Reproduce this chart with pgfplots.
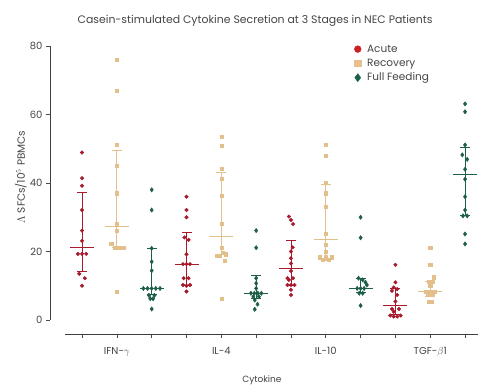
\documentclass[border=0pt]{standalone}
\usepackage{fontspec}
\setmainfont{Poppins}
\usepackage{pgfplots}
\pgfplotsset{compat=1.18}
\definecolor{acu}{HTML}{A81A2C}
\definecolor{acuL}{HTML}{CC1F22}
\definecolor{rec}{HTML}{E3BF8C}
\definecolor{recL}{HTML}{E8C08E}
\definecolor{ful}{HTML}{1D5E4A}
\definecolor{fulL}{HTML}{1B6048}
\definecolor{txt}{HTML}{444444}
\begin{document}
\begin{tikzpicture}
\useasboundingbox (0,0) rectangle (478pt,385pt);
\begin{axis}[
  at={(50pt,51pt)}, anchor=south west, scale only axis,
  width=429pt, height=288pt,
  xmin=0.08, xmax=12.4, ymin=-4.1, ymax=80,
  axis lines*=left, axis line style={draw=none},
  clip=false,
  ytick={0,20,40,60,80},
  xtick={1,...,12},
  xticklabels={,IFN-$\gamma$,,,IL-4,,,IL-10,,,TGF-$\beta$1,},
  tick align=outside, major tick length=4pt,
  tick style={color=black!70, line width=0.6pt},
  /pgf/number format/assume math mode=true,
  yticklabel style={font=\fontsize{10}{12}\selectfont, text=txt},
  xticklabel style={font=\fontsize{10}{12}\selectfont, text=txt, yshift=-6pt},
  title={Casein-stimulated Cytokine Secretion at 3 Stages in NEC Patients},
  title style={at={(axis description cs:0.478,1.068)}, anchor=center, font=\fontsize{10.9}{13}\selectfont, text=txt},
  xlabel={Cytokine},
  xlabel style={at={(axis description cs:0.494,-0.16)}, anchor=center, font=\fontsize{9}{11}\selectfont, text=txt},
  ylabel={$\Lambda$ SFCs/10$^5$ PBMCs},
  ylabel style={at={(axis description cs:-0.068,0.545)}, anchor=center, font=\fontsize{10.5}{12}\selectfont, text=txt},
  legend style={at={(axis description cs:0.709,1.012)}, anchor=north west, draw=none, fill=none,
    font=\fontsize{10.5}{12}\selectfont, text=txt, row sep=1.3pt, inner sep=0pt,
    cells={anchor=west}, /tikz/every odd column/.append style={column sep=4pt}},
  legend image code/.code={\draw[#1] plot coordinates {(5pt,0pt)};},
]
\addlegendimage{only marks, mark=*, mark size=3.4pt, color=acuL}
\addlegendimage{only marks, mark=square*, mark size=3.2pt, color=recL}
\addlegendimage{only marks, mark=diamond*, mark size=4pt, color=fulL}
\legend{Acute,Recovery,Full Feeding}

% ---------- data points ----------
\pgfplotsset{acuM/.style={only marks, mark=*, mark size=1.8pt, color=acu, forget plot},
  recM/.style={only marks, mark=square*, mark size=1.6pt, color=rec, forget plot},
  fulM/.style={only marks, mark=diamond*, mark size=2.2pt, color=ful, forget plot},
  acuL/.style={color=acu, line width=0.8pt, mark=-, mark size=5pt, forget plot},
  recL/.style={color=rec, line width=0.8pt, mark=-, mark size=5pt, forget plot},
  fulL/.style={color=ful, line width=0.8pt, mark=-, mark size=5pt, forget plot},
  medA/.style={only marks, color=acu, line width=0.8pt, mark=-, mark size=12pt, forget plot},
  medR/.style={only marks, color=rec, line width=0.8pt, mark=-, mark size=12pt, forget plot},
  medF/.style={only marks, color=ful, line width=0.8pt, mark=-, mark size=12pt, forget plot}}

% IFN-gamma
\addplot[acuM] coordinates {(1,48.9) (1,41.4) (1,39.2) (1,32.1) (1,26.1) (1,23.1)
  (0.88,19.3) (1,19.3) (1.12,19.3) (0.92,13.5) (1.08,12.2) (1,10.0)};
\addplot[recM] coordinates {(2,75.9) (2,66.9) (2,51.1) (2,45.1) (2,37.0) (2,28.2) (2,26.1)
  (1.84,22.2) (1.93,21.1) (2.02,21.1) (2.11,21.1) (2.2,21.1) (2,8.3)};
\addplot[fulM] coordinates {(3,38.0) (3,32.1) (3,20.9) (3,17.0) (3,14.4)
  (2.76,9.2) (2.88,9.2) (3.0,9.2) (3.12,9.2) (3.24,9.2) (2.92,7.2) (3.08,7.2)
  (2.96,6.2) (3.04,6.2) (3,3.2)};
% IL-4
\addplot[acuM] coordinates {(4,36.0) (4,32.1) (4,30.0) (3.94,24.1) (4.06,23.4) (4,19.2)
  (3.9,16.3) (4.0,16.3) (4.1,16.3) (3.92,12.2) (4.06,12.2) (3.9,10.2) (4.0,10.0) (4.1,10.2) (4,8.3)};
\addplot[recM] coordinates {(5,53.4) (5,50.9) (5,44.1) (5,41.2) (5,36.3) (5,28.1) (5,21.1)
  (4.88,18.7) (4.96,18.7) (5.04,19.6) (5.12,19.2) (5.1,17.2) (5,6.3)};
\addplot[fulM] coordinates {(6,26.1) (6,21.1) (6,12.2) (6,10.7) (6,9.2)
  (5.85,7.8) (5.95,7.8) (6.05,7.8) (6.15,7.8) (5.92,6.8) (6.08,6.8) (5.96,5.8) (6.04,4.6) (5.96,3.1)};
% IL-10
\addplot[acuM] coordinates {(6.94,30.2) (7.0,29.2) (7.06,28.0) (7.05,21.2) (7.0,20.0) (7,18.0)
  (7,16.5) (7,14.3) (6.9,12.2) (7.06,12.2) (6.94,11.7) (6.9,10.2) (7.0,10.2) (7.1,10.2) (7,8.8) (7,7.3)};
\addplot[recM] coordinates {(8,51.1) (8,47.9) (8,40.1) (8,37.0) (8,33.1) (8,25.3) (8,21.9) (8,20.0)
  (7.82,18.3) (7.92,17.5) (8.0,18.3) (8.08,17.5) (8.18,18.3)};
\addplot[fulM] coordinates {(9,30.0) (9,24.0) (8.94,12.2) (9.06,11.7) (9.14,11.0)
  (8.9,9.2) (9.0,9.2) (9.1,9.2) (9.18,10.2) (8.96,7.8) (9.06,7.8) (9,4.2)};
% TGF-beta1
\addplot[acuM] coordinates {(10,16.1) (10,11.0) (9.95,9.5) (10.05,9.0) (9.9,8.5) (10.05,7.3)
  (10,5.4) (9.9,3.2) (10.1,3.2) (9.95,2.4) (9.85,1.3) (9.95,1.0) (10.05,1.0) (10.15,1.3)};
\addplot[recM] coordinates {(11,21.1) (11,16.1) (11.1,12.5) (10.96,11.2) (11.06,11.2) (11,10.0)
  (10.88,8.3) (11.0,8.3) (11.12,8.3) (10.92,7.3) (11.08,7.3) (10.95,5.4) (11.05,5.4)};
\addplot[fulM] coordinates {(12,63.1) (12,60.8) (12,51.1) (11.92,48.2) (12.06,46.9) (12,44.0)
  (12,41.1) (12,36.0) (12,32.1) (11.94,30.4) (12.06,30.4) (12,25.1) (12,22.2)};

% ---------- interquartile bars and medians ----------
\addplot[acuL] coordinates {(1,14.3) (1,37.2)};
\addplot[medA] coordinates {(1,21.1)};
\addplot[recL] coordinates {(2,21.1) (2,49.6)};
\addplot[medR] coordinates {(2,27.2)};
\addplot[fulL] coordinates {(3,7.5) (3,20.9)};
\addplot[medF] coordinates {(3,9.1)};
\addplot[acuL] coordinates {(4,10.2) (4,25.7)};
\addplot[medA] coordinates {(4,16.3)};
\addplot[recL] coordinates {(5,19.0) (5,43.1)};
\addplot[medR] coordinates {(5,24.5)};
\addplot[fulL] coordinates {(6,6.3) (6,13.0)};
\addplot[medF] coordinates {(6,7.8)};
\addplot[acuL] coordinates {(7,10.2) (7,23.1)};
\addplot[medA] coordinates {(7,15.1)};
\addplot[recL] coordinates {(8,17.5) (8,39.5)};
\addplot[medR] coordinates {(8,23.6)};
\addplot[fulL] coordinates {(9,8.0) (9,12.2)};
\addplot[medF] coordinates {(9,9.2)};
\addplot[acuL] coordinates {(10,1.5) (10,9.3)};
\addplot[medA] coordinates {(10,4.2)};
\addplot[recL] coordinates {(11,6.8) (11,11.2)};
\addplot[medR] coordinates {(11,8.3)};
\addplot[fulL] coordinates {(12,30.4) (12,50.4)};
\addplot[medF] coordinates {(12,42.6)};

% axis lines (Prism-style offset)
\draw[black!75, line width=0.7pt] (axis cs:0.08,0) -- (axis cs:0.08,80);
\draw[black!75, line width=0.7pt] (axis cs:0.51,-4.1) -- (axis cs:12.4,-4.1);
\end{axis}
\end{tikzpicture}
\end{document}
